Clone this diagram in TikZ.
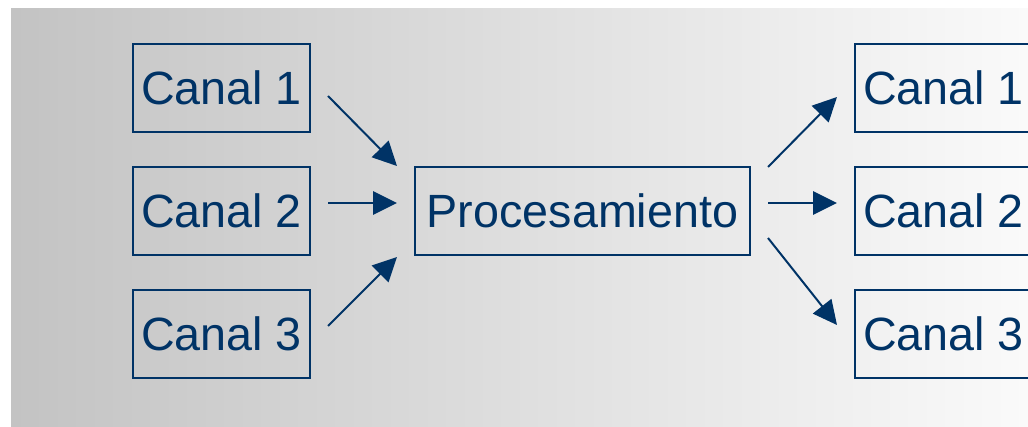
\documentclass[tikz,border=0pt]{standalone}
\usepackage{fontspec}
\setmainfont{Liberation Sans}
\usetikzlibrary{arrows.meta,calc}
\definecolor{navy}{RGB}{0,51,102}
\definecolor{bgleft}{RGB}{195,195,195}
\definecolor{bgright}{RGB}{250,250,250}
\tikzset{
  px/.style={x=0.75pt,y=-0.75pt},
  chanbox/.style={draw=navy,line width=1.5pt,minimum width=132.75pt,minimum height=66pt,
    inner sep=0pt,text=navy,font=\fontsize{35}{41}\selectfont},
  procbox/.style={chanbox,minimum width=251.25pt},
  arr/.style={draw=navy,line width=1.5pt,-{Triangle[length=18pt,width=17.5pt]}}
}
\begin{document}
\begin{tikzpicture}[px]
  \useasboundingbox (0,0) rectangle (1028,427);
  \clip (0,0) rectangle (1028,427);
  % shaded backdrop
  \shade[left color=bgleft,right color=bgright] (11,9) rectangle (1028,427);
  % input channels
  \node[chanbox] (c1) at (221.5,88) {Canal 1};
  \node[chanbox] (c2) at (221.5,211) {Canal 2};
  \node[chanbox] (c3) at (221.5,334) {Canal 3};
  % processing stage
  \node[procbox] (p) at (582.5,211) {Procesamiento};
  % output channels
  \node[chanbox] (r1) at (943.5,88) {Canal 1};
  \node[chanbox] (r2) at (943.5,211) {Canal 2};
  \node[chanbox] (r3) at (943.5,334) {Canal 3};
  % connectors
  \draw[arr] ($(c1.east)+(17,8)$) -- ($(p.north west)+(-17,0)$);
  \draw[arr] ($(c2.east)+(17,-8)$) -- ($(p.west)+(-17,-8)$);
  \draw[arr] ($(c3.east)+(17,-8)$) -- ($(p.south west)+(-17,1)$);
  \draw[arr] ($(p.north east)+(17,1)$) -- ($(r1.west)+(-17,9)$);
  \draw[arr] ($(p.east)+(17,-8)$) -- ($(r2.west)+(-17,-8)$);
  \draw[arr] ($(p.east)+(17,27)$) -- ($(r3.west)+(-17,-9)$);
\end{tikzpicture}
\end{document}
